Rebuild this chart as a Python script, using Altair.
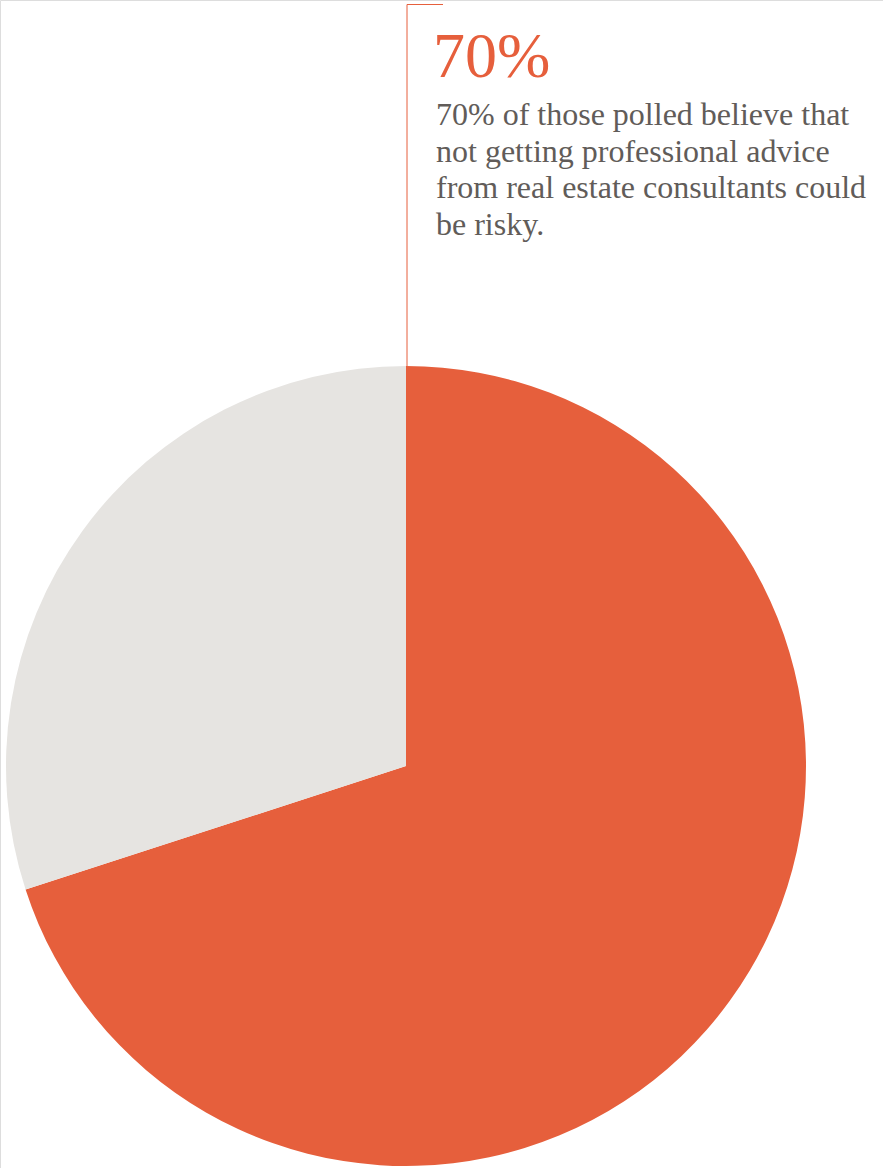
import altair as alt
import pandas as pd

categories = ["Risky without advice", "Other"]
values = [70, 30]
colors = ["#E65F3C", "#E6E4E1"]
headline = "70%"
body_lines = [
    "70% of those polled believe that",
    "not getting professional advice",
    "from real estate consultants could",
    "be risky.",
]

df = pd.DataFrame({"category": categories, "value": values, "order": [0, 1]})

W, H = 883, 1168
cx, cy, r = 406, 766, 400

pie = alt.Chart(df).mark_arc(outerRadius=r, stroke=None).encode(
    theta=alt.Theta("value:Q", stack=True),
    order=alt.Order("order:Q"),
    color=alt.Color("category:N", scale=alt.Scale(domain=categories, range=colors), legend=None),
    x=alt.value(cx),
    y=alt.value(cy),
)

line_df = pd.DataFrame({"a": [0]})
vrule = alt.Chart(line_df).mark_rule(color="#E65F3C", strokeWidth=1).encode(
    x=alt.value(407), y=alt.value(4.5), y2=alt.value(366)
)
hrule = alt.Chart(line_df).mark_rule(color="#E65F3C", strokeWidth=1).encode(
    x=alt.value(407), x2=alt.value(443), y=alt.value(4.5)
)

head = alt.Chart(pd.DataFrame({"t": [headline]})).mark_text(
    font="Liberation Serif", fontSize=64, color="#E65F3C", align="left", baseline="alphabetic"
).encode(x=alt.value(433), y=alt.value(77), text="t:N")

body = alt.Chart(pd.DataFrame({"t": ["\n".join(body_lines)]})).mark_text(
    font="Liberation Serif", fontSize=32, color="#615C59", align="left", baseline="alphabetic",
    lineBreak="\n", lineHeight=36.5
).encode(x=alt.value(436), y=alt.value(125), text="t:N")

chart = alt.layer(pie, vrule, hrule, head, body).properties(
    width=W, height=H, padding=0, autosize="none"
).configure_view(stroke=None).configure(background="white")

chart.save("out.html", embed_options={"renderer": "svg", "actions": False})
